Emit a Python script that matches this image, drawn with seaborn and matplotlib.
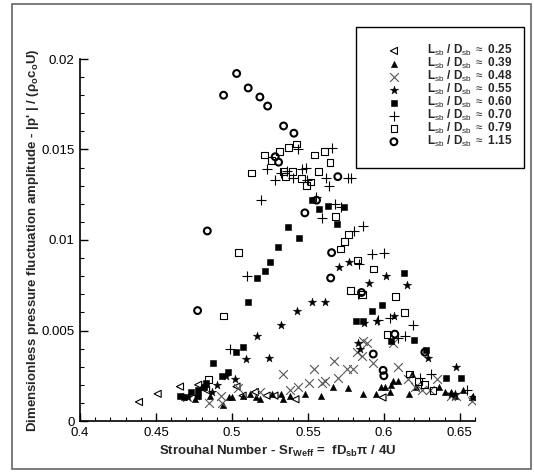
import matplotlib
matplotlib.use("Agg")
import matplotlib.pyplot as plt
import matplotlib.ticker as mticker
from matplotlib.patches import Rectangle
import seaborn as sns
import pandas as pd

# ---- data ----
ratios = ["0.25", "0.39", "0.48", "0.55", "0.60", "0.70", "0.79", "1.15"]

tri_x = [0.4388, 0.4511, 0.4658, 0.4778, 0.4830, 0.5030, 0.5070, 0.5151, 0.5228, 0.5280, 0.5418, 0.5991]
tri_y = [0.00105, 0.0015, 0.0019, 0.0020, 0.0017, 0.0019, 0.0014, 0.0016, 0.0014, 0.0014, 0.0012, 0.0013]

up_x = [0.4757, 0.4858, 0.4943, 0.4980, 0.4998, 0.5072, 0.5120, 0.5160, 0.5186, 0.5266, 0.5321, 0.5337,
        0.5382, 0.5480, 0.5586, 0.5667, 0.5765, 0.5863, 0.5951, 0.5979, 0.6008, 0.6041, 0.6050, 0.6060,
        0.6094, 0.6166, 0.6188, 0.6210, 0.6364, 0.6401, 0.6445, 0.6467, 0.6518, 0.6583]
up_y = [0.0012, 0.0014, 0.0009, 0.0013, 0.0013, 0.0014, 0.0015, 0.0013, 0.0012, 0.0015, 0.0015, 0.0012,
        0.0014, 0.0015, 0.0014, 0.0019, 0.0018, 0.0015, 0.0015, 0.0019, 0.0019, 0.0016, 0.0020, 0.0022,
        0.0022, 0.0015, 0.0026, 0.0019, 0.0019, 0.0016, 0.0016, 0.0014, 0.0017, 0.0013]

x_x = [0.4702, 0.4851, 0.4928, 0.4936, 0.5040, 0.5184, 0.5333, 0.5382, 0.5436, 0.5509, 0.5540, 0.5590,
       0.5612, 0.5670, 0.5700, 0.5755, 0.5795, 0.5821, 0.5853, 0.5864, 0.5886, 0.5930, 0.6061, 0.6090,
       0.6160, 0.6204, 0.6248, 0.6303, 0.6351, 0.6445, 0.6478, 0.6583]
x_y = [0.0013, 0.0010, 0.0014, 0.0010, 0.0018, 0.0016, 0.0026, 0.0017, 0.0019, 0.0021, 0.0029, 0.0021,
       0.0022, 0.0033, 0.0024, 0.0029, 0.0029, 0.0038, 0.0036, 0.0044, 0.0043, 0.0032, 0.0043, 0.0030,
       0.0023, 0.0019, 0.0017, 0.0017, 0.0023, 0.0014, 0.0014, 0.0011]

star_x = [0.4708, 0.4768, 0.4816, 0.4868, 0.4905, 0.4962, 0.5020, 0.5090, 0.5167, 0.5246, 0.5325, 0.5430,
          0.5528, 0.5612, 0.5827, 0.5846, 0.5870, 0.5956, 0.6070, 0.5704, 0.5770, 0.5903, 0.6017, 0.6153,
          0.6291, 0.6474, 0.6467, 0.6440, 0.6587]
star_y = [0.0013, 0.0014, 0.0019, 0.0016, 0.0020, 0.0025, 0.0023, 0.0034, 0.0047, 0.0035, 0.0053, 0.0061,
          0.0066, 0.0066, 0.0043, 0.0040, 0.0054, 0.0055, 0.0058, 0.0085, 0.0088, 0.0076, 0.0080, 0.0075,
          0.0035, 0.0030, 0.0015, 0.0015, 0.0013]

fsq_x = [0.4658, 0.4686, 0.4730, 0.4775, 0.4778, 0.4815, 0.4832, 0.4873, 0.4932, 0.4971, 0.5024, 0.5070,
         0.5107, 0.5162, 0.5217, 0.5250, 0.5300, 0.5366, 0.5443, 0.5524, 0.5575, 0.5630, 0.5689, 0.5739,
         0.5816, 0.5860, 0.5925, 0.5991, 0.6044, 0.6132, 0.6197, 0.6276, 0.6408, 0.6507]
fsq_y = [0.0014, 0.0013, 0.0016, 0.0017, 0.0014, 0.0019, 0.0021, 0.0032, 0.0025, 0.0027, 0.0038, 0.0041,
         0.0066, 0.0079, 0.0083, 0.0088, 0.0096, 0.0107, 0.0101, 0.0122, 0.0117, 0.0119, 0.0109, 0.0118,
         0.0055, 0.0055, 0.0061, 0.0064, 0.0044, 0.0082, 0.0045, 0.0039, 0.0024, 0.0024]

plus_x = [0.4987, 0.5096, 0.5189, 0.5228, 0.5283, 0.5320, 0.5364, 0.5403, 0.5432, 0.5462, 0.5487, 0.5496,
          0.5553, 0.5590, 0.5618, 0.5640, 0.5656, 0.5678, 0.5717, 0.5761, 0.5783, 0.5805, 0.5864, 0.5838,
          0.5919, 0.6002, 0.5831, 0.5963, 0.6039, 0.6094, 0.6138, 0.6190, 0.6241, 0.6310, 0.6548]
plus_y = [0.0040, 0.0080, 0.0122, 0.0139, 0.0133, 0.0137, 0.0138, 0.0134, 0.0150, 0.0139, 0.0140, 0.0133,
          0.0124, 0.0112, 0.0134, 0.0130, 0.0151, 0.0120, 0.0118, 0.0134, 0.0134, 0.0105, 0.0108, 0.0087,
          0.0092, 0.0093, 0.0070, 0.0056, 0.0057, 0.0046, 0.0047, 0.0053, 0.0024, 0.0026, 0.0017]

osq_x = [0.4845, 0.4943, 0.5045, 0.5130, 0.5217, 0.5263, 0.5311, 0.5370, 0.5425, 0.5338, 0.5351, 0.5399,
         0.5458, 0.5491, 0.5520, 0.5541, 0.5607, 0.5645, 0.5570, 0.5684, 0.5765, 0.5743, 0.5715, 0.5824,
         0.5934, 0.5783, 0.5857, 0.6077, 0.6134, 0.6021, 0.6171, 0.6226, 0.6265, 0.6324]
osq_y = [0.0023, 0.0058, 0.0093, 0.0137, 0.0147, 0.0144, 0.0149, 0.0151, 0.0153, 0.0138, 0.0135, 0.0138,
         0.0134, 0.0130, 0.0132, 0.0147, 0.0149, 0.0143, 0.0138, 0.0113, 0.0103, 0.0099, 0.0095, 0.0089,
         0.0084, 0.0072, 0.0070, 0.0069, 0.0060, 0.0048, 0.0026, 0.0022, 0.0020, 0.0017]

circ_x = [0.4774, 0.4838, 0.4945, 0.5031, 0.5107, 0.5184, 0.5235, 0.5340, 0.5408, 0.5285, 0.5307, 0.5480,
          0.5557, 0.5697, 0.5656, 0.5650, 0.5853, 0.5930, 0.5995, 0.6000, 0.6072, 0.6270]
circ_y = [0.0061, 0.0105, 0.0180, 0.0192, 0.0184, 0.0179, 0.0174, 0.0163, 0.0159, 0.0146, 0.0143, 0.0115,
          0.0122, 0.0135, 0.0093, 0.0079, 0.0071, 0.0037, 0.0028, 0.0025, 0.0048, 0.0038]

x_ticks = [0.4, 0.45, 0.5, 0.55, 0.6, 0.65]
y_ticks = [0, 0.005, 0.01, 0.015, 0.02]

# ---- style ----
sns.set_theme(style="ticks")
plt.rcParams["font.family"] = ["Liberation Sans", "DejaVu Sans"]
plt.rcParams["mathtext.fontset"] = "custom"
plt.rcParams["mathtext.rm"] = "Liberation Sans"
plt.rcParams["mathtext.bf"] = "Liberation Sans:bold"
plt.rcParams["mathtext.it"] = "Liberation Sans:italic"

W, H = 534, 473
fig = plt.figure(figsize=(W / 100, H / 100), dpi=100)
ax = fig.add_axes([80 / W, 1 - 421 / H, (475 - 80) / W, (421 - 59) / H])

def lab(r):
    return r"L$_{\mathrm{sb}}$ / D$_{\mathrm{sb}}$ $\approx$ " + r

series = [
    (tri_x, tri_y, dict(marker="<", s=26, facecolor="none", edgecolor="black", linewidth=0.8)),
    (up_x, up_y, dict(marker="^", s=20, color="black", edgecolor="black", linewidth=0.4)),
    (x_x, x_y, dict(marker="x", s=40, color="#555555", linewidth=0.8)),
    (star_x, star_y, dict(marker="*", s=40, color="black", edgecolor="black", linewidth=0.3)),
    (fsq_x, fsq_y, dict(marker="s", s=20, color="black", edgecolor="black", linewidth=0.4)),
    (plus_x, plus_y, dict(marker="+", s=55, color="black", linewidth=0.8)),
    (osq_x, osq_y, dict(marker="s", s=24, facecolor="none", edgecolor="black", linewidth=0.8)),
    (circ_x, circ_y, dict(marker="o", s=24, facecolor="none", edgecolor="black", linewidth=1.5)),
]

for (xs, ys, kw), r in zip(series, ratios):
    df = pd.DataFrame({"Sr": xs, "amp": ys})
    sns.scatterplot(data=df, x="Sr", y="amp", ax=ax, label=lab(r), zorder=3, **kw)

ax.set_xlim(0.4, 0.66)
ax.set_ylim(0, 0.02)
ax.set_xticks(x_ticks)
ax.set_yticks(y_ticks)
ax.xaxis.set_major_formatter(mticker.FuncFormatter(lambda v, p: "%g" % round(v, 4)))
ax.yaxis.set_major_formatter(mticker.FuncFormatter(lambda v, p: "%g" % round(v, 4)))
ax.xaxis.set_minor_locator(mticker.MultipleLocator(0.01))
ax.yaxis.set_minor_locator(mticker.MultipleLocator(0.001))
ax.tick_params(which="major", direction="in", length=6, width=1.0, labelsize=9.5, color="black",
               labelcolor="black", pad=4)
ax.tick_params(which="minor", direction="in", length=3, width=0.8, color="black")
for s in ["top", "right"]:
    ax.spines[s].set_visible(False)
for s in ["left", "bottom"]:
    ax.spines[s].set_color("black")
    ax.spines[s].set_linewidth(1.2)
ax.set_facecolor("white")

ax.set_xlabel(r"Strouhal Number - Sr$_{\mathbf{Weff}}$ =  fD$_{\mathbf{sb}}$π / 4U",
              fontsize=9.5, fontweight="bold", labelpad=4)
ax.set_ylabel(r"Dimensionless pressure fluctuation amplitude - |p' | / (ρ$_{\mathbf{o}}$c$_{\mathbf{o}}$U)",
              fontsize=9.5, fontweight="bold", labelpad=0)

# legend box (white rectangle) and frameless legend on top of it
box = Rectangle((356 / W, 1 - 168 / H), (524 - 356) / W, (168 - 27) / H,
                transform=fig.transFigure, fill=True, facecolor="white",
                edgecolor="black", linewidth=1.0, zorder=8, clip_on=False)
ax.add_patch(box)
handles, labels = ax.get_legend_handles_labels()
leg = ax.legend(handles, labels, loc="upper left", bbox_to_anchor=(388 / W, 1 - 43 / H),
                bbox_transform=fig.transFigure, frameon=False,
                prop={"weight": "bold", "size": 8.5}, labelspacing=-0.18, handletextpad=2.3,
                handlelength=1.0, borderpad=0, borderaxespad=0)
leg.set_zorder(10)

# outer frame
fig.patches.append(Rectangle((12 / W, 1 - 469 / H), (531 - 12) / W, (469 - 4) / H,
                             transform=fig.transFigure, fill=False, edgecolor="#666666",
                             linewidth=1.2))

fig.savefig("out.png", dpi=100)
